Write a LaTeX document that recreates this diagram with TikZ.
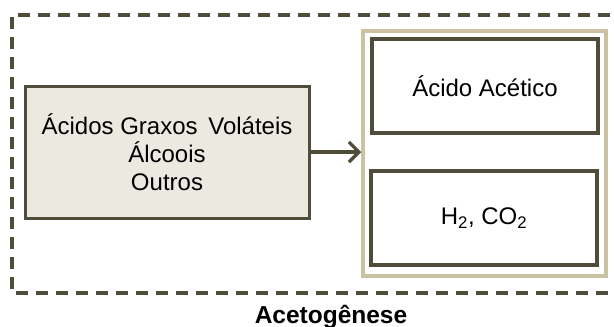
\documentclass[tikz,border=0pt]{standalone}
\usepackage{fontspec}
\setmainfont{Liberation Sans}
\usetikzlibrary{arrows.meta, positioning}
\definecolor{frameol}{RGB}{80,76,58}
\definecolor{beigeln}{RGB}{202,194,162}
\definecolor{beigefl}{RGB}{236,233,225}

\begin{document}
\begin{tikzpicture}[
    x=1pt, y=-1pt,
    font=\fontsize{24}{28}\selectfont,
    box/.style={draw=frameol, line width=3.3pt, minimum width=226pt, minimum height=94pt, inner sep=0pt},
    every edge/.append style={line width=3.3pt, draw=frameol}
]
   \useasboundingbox (0,0) rectangle (614,327);

   % Dashed frame
   \draw[frameol, line width=3.3pt, dash pattern=on 12pt off 8pt] (630,15) -- (12,15) -- (12,293) -- (630,293);
   \node[font=\bfseries\fontsize{24.5}{28}\selectfont, anchor=base] (stage) at (331,323) {Acetogênese};

   % Boxes
   \node[draw=frameol, fill=beigefl, line width=3pt, minimum width=284pt, minimum height=132pt, align=center, inner sep=0pt] (src) at (167,152) {Ácidos Graxos\, Voláteis\\Álcoois\\Outros};
   \node[draw=beigeln, line width=3.5pt, minimum width=243pt, minimum height=245pt] (grp) at (484.5,153.5) {};
   \node[box] (acet) at (485,86) {Ácido Acético};
   \node[box] (gas) at (484,218) {H\textsubscript{2}, CO\textsubscript{2}};

   % Arrow
   \path (src.east) edge[-{Straight Barb[length=10pt, width=20pt]}] (src.east -| grp.west);
\end{tikzpicture}
\end{document}
